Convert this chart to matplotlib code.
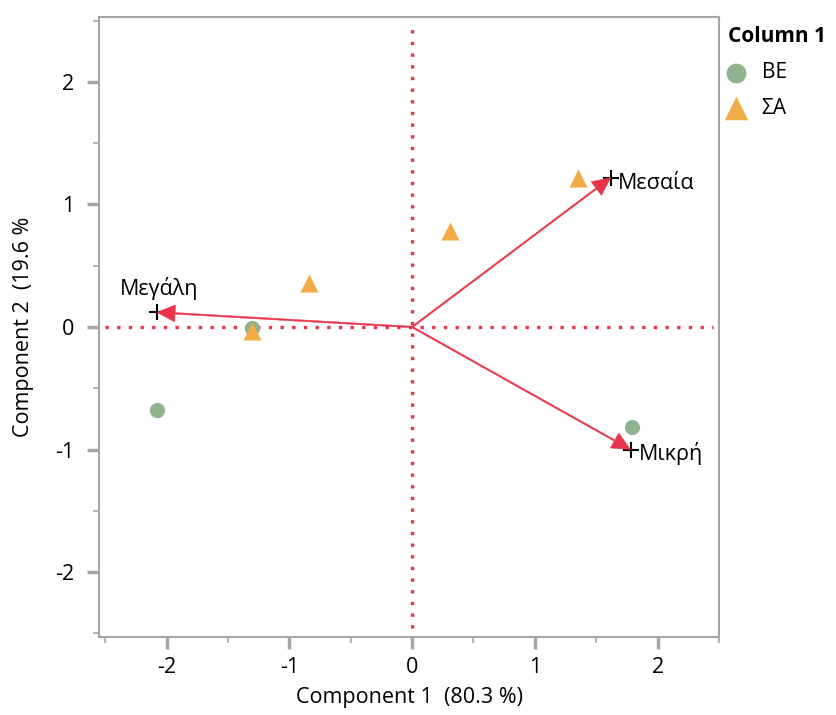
import numpy as np
import matplotlib.pyplot as plt

plt.rcParams['font.family'] = ['Open Sans', 'DejaVu Sans']
plt.rcParams['axes.unicode_minus'] = False

# score points
be_x = [-2.08, -1.30, 1.79]
be_y = [-0.68, -0.01, -0.82]
sa_x = [-0.84, -1.30, 0.31, 1.35]
sa_y = [0.36, -0.03, 0.78, 1.22]

# loadings
load_names = ['Μεγάλη', 'Μεσαία', 'Μικρή']
load_x = [-2.08, 1.62, 1.78]
load_y = [0.12, 1.22, -1.00]

red = '#E8344A'
grey = '#A6A6A6'

fig = plt.figure(figsize=(8.37, 7.15), dpi=100)
ax = fig.add_axes([0.1183, 0.1091, 0.7407, 0.8671])

ax.axvline(0, color=red, lw=2.4, ls=(0, (1, 2.5)), ymin=0.015, ymax=0.985, zorder=1)
ax.axhline(0, color=red, lw=2.4, ls=(0, (1, 2.5)), xmin=0.01, xmax=0.99, zorder=1)

ax.scatter(be_x, be_y, s=120, marker='o', color='#8FB28F', zorder=3, label='ΒΕ', linewidths=0)
ax.scatter(sa_x, sa_y, s=170, marker='^', color='#F2AC47', zorder=3, label='ΣΑ', linewidths=0)

for name, lx, ly in zip(load_names, load_x, load_y):
    ax.plot([lx], [ly], marker='+', color='black', ms=12, mew=1.5, zorder=4)
    ax.arrow(0, 0, lx, ly, width=0.013, head_width=0.14, head_length=0.15,
             length_includes_head=True, color=red, lw=0.3, zorder=5)

ax.text(load_x[0] + 0.02, load_y[0] + 0.1, load_names[0], fontsize=15.5, ha='center', va='bottom')
ax.text(load_x[1] + 0.06, load_y[1] - 0.05, load_names[1], fontsize=15.5, ha='left', va='center')
ax.text(load_x[2] + 0.07, load_y[2] - 0.03, load_names[2], fontsize=15.5, ha='left', va='center')

ax.set_xlim(-2.55, 2.5)
ax.set_ylim(-2.53, 2.53)
ax.set_xticks([-2, -1, 0, 1, 2])
ax.set_yticks([-2, -1, 0, 1, 2])
ax.set_xticks(np.arange(-2.5, 2.6, 0.5), minor=True)
ax.set_yticks(np.arange(-2.5, 2.6, 0.5), minor=True)

for s in ax.spines.values():
    s.set_color(grey)
    s.set_linewidth(1.5)
ax.tick_params(which='major', length=8.6, width=1.2, color=grey, labelsize=15.5)
ax.tick_params(axis='y', which='major', pad=9)
ax.tick_params(axis='x', which='major', pad=6)
ax.tick_params(which='minor', length=4.3, width=1.2, color=grey)

for t in ax.xaxis.get_major_ticks() + ax.yaxis.get_major_ticks():
    if t.get_loc() == 0:
        t.tick1line.set_color(red)
        t.tick1line.set_markeredgewidth(2.5)

ax.set_xlabel('Component 1  (80.3 %)', fontsize=15.5, labelpad=6)
ax.set_ylabel('Component 2  (19.6 %', fontsize=15.5, labelpad=15)

leg = ax.legend(title='Column 1', loc='upper left', bbox_to_anchor=(1.0, 1.0),
                frameon=False, fontsize=15, title_fontsize=15, handletextpad=0.9,
                borderaxespad=0.25, alignment='left', labelspacing=0.7,
                handlelength=0.7, borderpad=0.2, markerscale=1.3)
leg.get_title().set_fontweight('bold')

fig.savefig('out.png', dpi=100)
